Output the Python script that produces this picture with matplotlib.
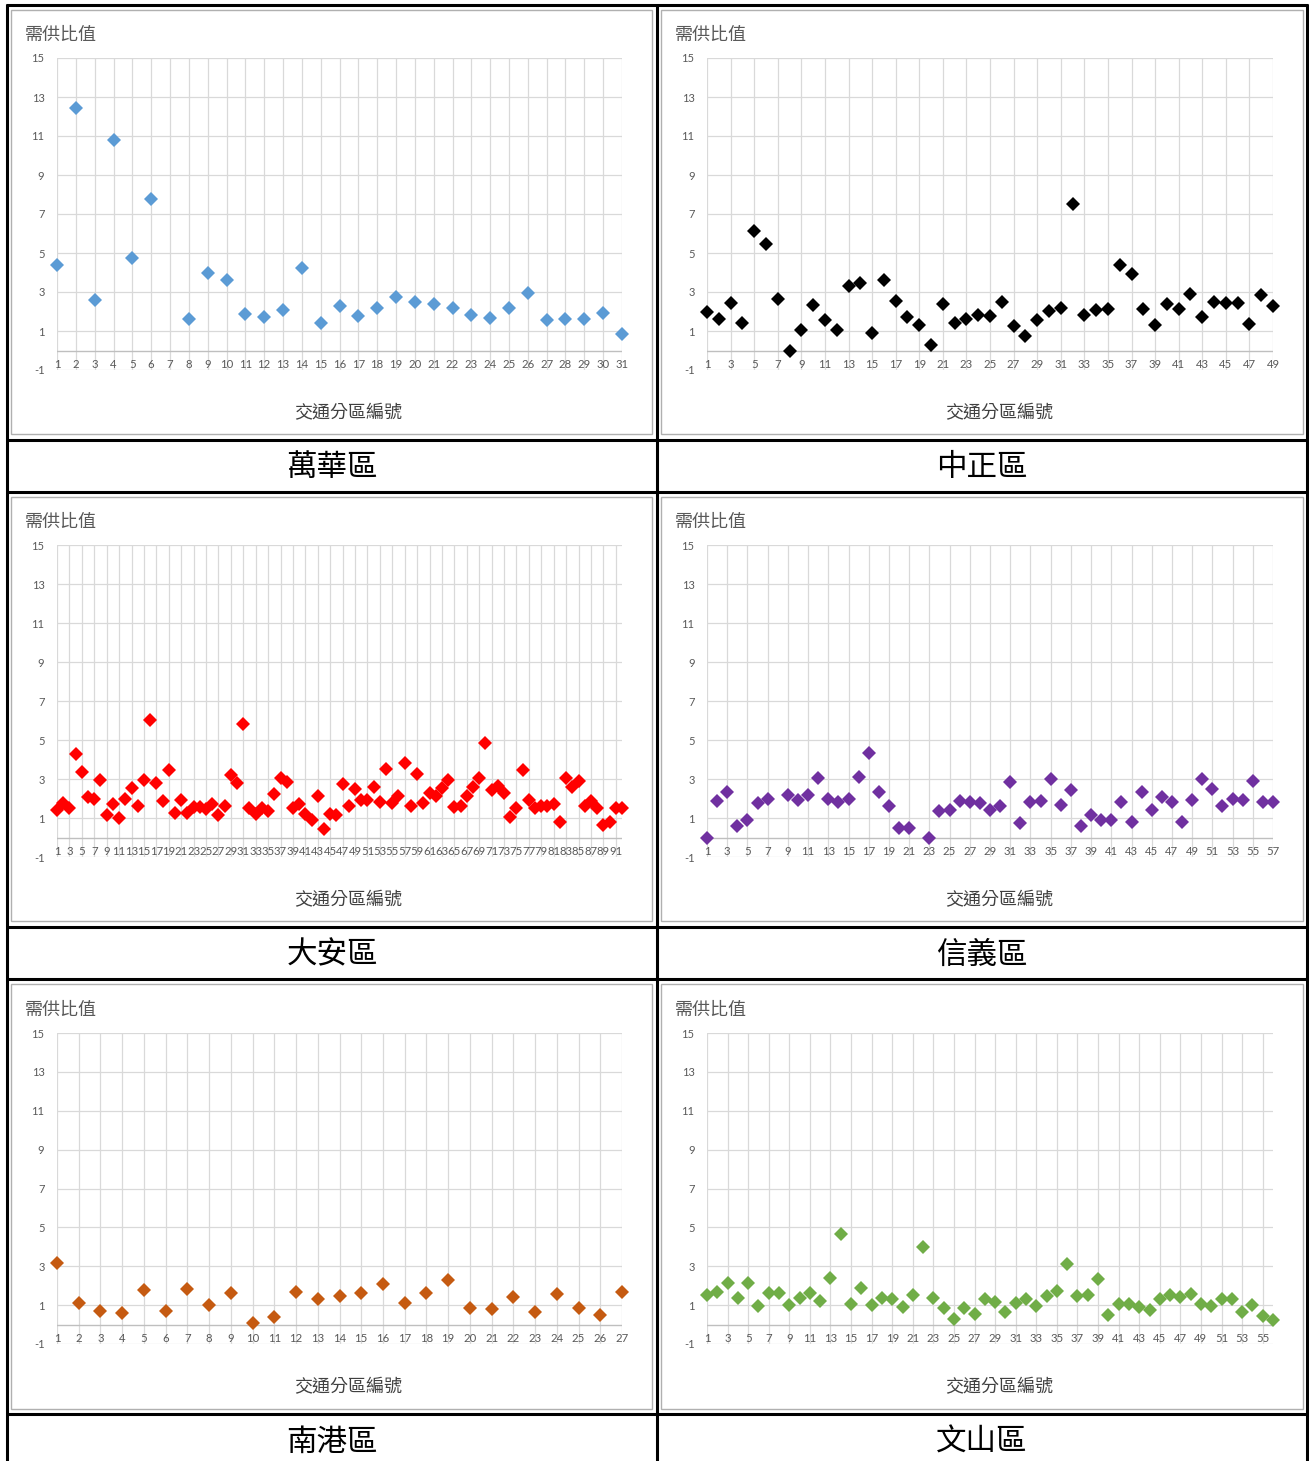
import numpy as np
import matplotlib
matplotlib.use('Agg')
import matplotlib.pyplot as plt

plt.rcParams['font.family'] = ['Noto Sans CJK TC', 'DejaVu Sans']

nan = np.nan

# 區名與顏色
districts = ['萬華區', '中正區', '大安區', '信義區', '南港區', '文山區']
colors = ['#5B9BD5', '#000000', '#FF0000', '#7030A0', '#C55A11', '#70AD47']

# 各交通分區的需供比值 (讀圖估計)
wanhua = [4.40, 12.43, 2.61, 10.79, 4.76, 7.79, nan, 1.60, 3.99, 3.63,
          1.89, 1.73, 2.06, 4.23, 1.41, 2.28, 1.79, 2.18, 2.76, 2.50,
          2.38, 2.16, 1.82, 1.67, 2.20, 2.95, 1.56, 1.63, 1.60, 1.91, 0.86]

zhongzheng = [1.99, 1.63, 2.45, 1.43, 6.13, 5.46, 2.62, 0.00, 1.03, 2.33,
              1.55, 1.07, 3.31, 3.48, 0.88, 3.62, 2.52, 1.72, 1.32, 0.30,
              2.37, 1.43, 1.63, 1.84, 1.77, 2.50, 1.24, 0.74, 1.55, 2.03,
              2.18, 7.50, 1.80, 2.06, 2.11, 4.37, 3.91, 2.11, 1.29, 2.38,
              2.11, 2.91, 1.74, 2.49, 2.42, 2.45, 1.38, 2.86, 2.28]

daan = [1.42, 1.77, 1.49, 4.29, 3.36, 2.08, 1.97, 2.93, 1.17, 1.72,
        0.98, 1.97, 2.54, 1.61, 2.95, 6.05, 2.78, 1.87, 3.46, 1.25,
        1.90, 1.25, 1.54, 1.56, 1.46, 1.73, 1.13, 1.60, 3.22, 2.78,
        5.82, 1.50, 1.22, 1.50, 1.36, 2.23, 3.05, 2.86, 1.53, 1.72,
        1.22, 0.89, 2.11, 0.44, 1.20, 1.13, 2.76, 1.63, 2.49, 1.90,
        1.90, 2.59, 1.80, 3.52, 1.77, 2.11, 3.83, 1.60, 3.28, 1.77,
        2.28, 2.11, 2.54, 2.93, 1.56, 1.63, 2.11, 2.57, 3.05, 4.85,
        2.42, 2.66, 2.28, 1.05, 1.51, 3.45, 1.94, 1.51, 1.60, 1.63,
        1.73, 0.82, 3.04, 2.59, 2.88, 1.60, 1.85, 1.51, 0.65, 0.82,
        1.51, 1.51]

xinyi = [0.00, 1.86, 2.31, 0.60, 0.89, 1.76, 2.00, nan, 2.17, 1.91,
         2.17, 3.07, 2.00, 1.80, 2.00, 3.09, 4.31, 2.34, 1.59, 0.47,
         0.49, nan, 0.00, 1.37, 1.39, 1.88, 1.81, 1.76, 1.39, 1.59,
         2.83, 0.74, 1.80, 1.88, 2.99, 1.68, 2.44, 0.60, 1.13, 0.88,
         0.88, 1.84, 0.79, 2.34, 1.42, 2.10, 1.80, 0.77, 1.93, 3.02,
         2.48, 1.64, 1.97, 1.90, 2.88, 1.80, 1.80]

nangang = [3.16, 1.09, 0.70, 0.62, 1.79, 0.68, 1.81, 1.01, 1.64, 0.09,
           0.38, 1.69, 1.33, 1.45, 1.64, 2.07, 1.09, 1.64, 2.31, 0.84,
           0.80, 1.42, 0.65, 1.59, 0.85, 0.51, 1.68]

wenshan = [1.53, 1.66, 2.13, 1.39, 2.13, 0.94, 1.63, 1.60, 1.03, 1.39,
           1.60, 1.22, 2.42, 4.65, 1.08, 1.89, 1.03, 1.39, 1.29, 0.91,
           1.53, 4.00, 1.39, 0.86, 0.27, 0.87, 0.55, 1.34, 1.15, 0.65,
           1.13, 1.30, 0.93, 1.46, 1.73, 3.10, 1.46, 1.50, 2.33, 0.51,
           1.06, 1.08, 0.91, 0.75, 1.30, 1.53, 1.42, 1.56, 1.05, 0.96,
           1.32, 1.34, 0.67, 1.01, 0.46, 0.22]

series = [wanhua, zhongzheng, daan, xinyi, nangang, wenshan]
label_steps = [1, 2, 2, 2, 1, 2]

W, H = 1309, 1461
fig = plt.figure(figsize=(W / 100, H / 100), dpi=100)

# 表格框線 (像素座標)
bg = fig.add_axes([0, 0, 1, 1])
bg.set_xlim(0, W)
bg.set_ylim(H, 0)
bg.axis('off')
for y in [5, 440, 492, 927, 979, 1414]:
    bg.plot([6, 1308], [y, y], color='black', lw=2.2, solid_capstyle='butt')
for x in [7, 657, 1307]:
    bg.plot([x, x], [4, H], color='black', lw=2.2, solid_capstyle='butt')
frame_rows = [(10, 434), (497, 921), (984, 1409)]
frame_cols = [(11, 652), (661, 1303)]
for (t, b) in frame_rows:
    for (l, r) in frame_cols:
        bg.add_patch(plt.Rectangle((l, t), r - l, b - t, fill=False,
                                   edgecolor='#B0B0B0', lw=1))

col_left = [57, 707]
col_right = [622, 1273]
row_top = [58, 545, 1033]
row_bot = [370, 857, 1344]
xtitle_x = [348, 999]
caption_x = [332, 982]
caption_y = [468, 955, 1442]

for i, vals in enumerate(series):
    r, c = divmod(i, 2)
    l, rr = col_left[c], col_right[c]
    t, b = row_top[r], row_bot[r]
    ax = fig.add_axes([l / W, 1 - b / H, (rr - l) / W, (b - t) / H])
    ax.set_facecolor('none')
    n = len(vals)
    x = np.arange(1, n + 1)
    ax.set_xlim(1, n)
    ax.set_ylim(-1, 15)

    ax.set_yticks(range(-1, 16, 2))
    ax.set_yticklabels([str(v) for v in range(-1, 16, 2)], fontfamily='Lato')
    ticks = list(range(1, n + 1, label_steps[i]))
    ax.set_xticks(ticks)
    ax.set_xticklabels([])
    ax.tick_params(axis='y', length=0, pad=9, labelsize=8, labelcolor='#595959')
    ax.tick_params(axis='x', length=0)
    ax.grid(True, color='#D9D9D9', lw=0.9)
    ax.set_axisbelow(True)
    for s in ax.spines.values():
        s.set_visible(False)
    ax.axhline(0, color='#BFBFBF', lw=1, zorder=1)

    for tk in ticks:
        ax.text(tk, -1.0, str(tk), ha='center', va='bottom', fontsize=8.2,
                color='#595959', family='Lato')

    ax.plot(x, vals, linestyle='none', marker='D', ms=6.8, mew=0,
            color=colors[i], clip_on=False, zorder=3)

    fig.text((l - 32) / W, 1 - (t - 23) / H, '需供比值', fontsize=13,
             color='#595959', ha='left', va='center')
    fig.text(xtitle_x[c] / W, 1 - (b + 43) / H, '交通分區編號', fontsize=13,
             color='#404040', ha='center', va='center')
    fig.text(caption_x[c] / W, 1 - caption_y[r] / H, districts[i], fontsize=22,
             color='black', ha='center', va='center')

fig.savefig('out.png', dpi=100)
